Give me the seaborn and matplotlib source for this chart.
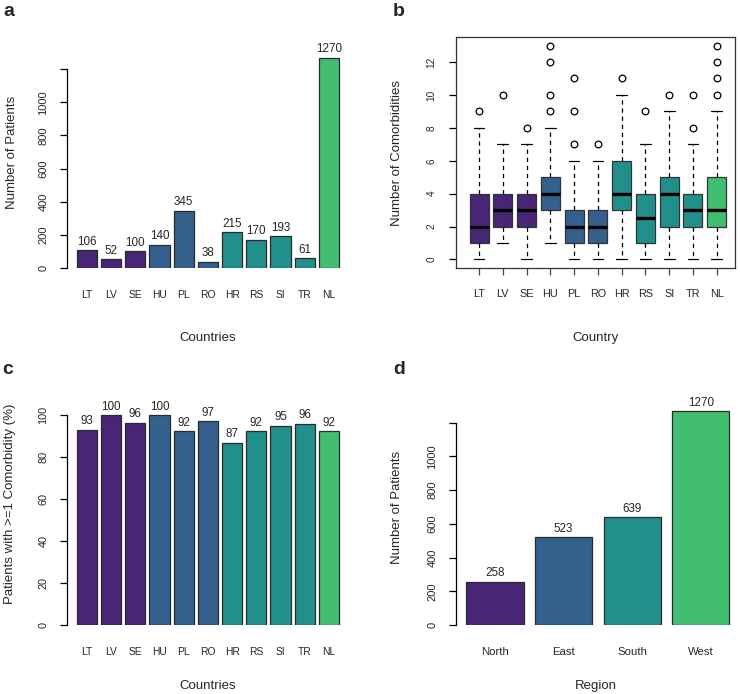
import numpy as np
import pandas as pd
import matplotlib
matplotlib.use("Agg")
import matplotlib.pyplot as plt
import seaborn as sns

# ---- data ----
countries = ["LT", "LV", "SE", "HU", "PL", "RO", "HR", "RS", "SI", "TR", "NL"]
country_region = ["North", "North", "North", "East", "East", "East",
                  "South", "South", "South", "South", "West"]
patients = [106, 52, 100, 140, 345, 38, 215, 170, 193, 61, 1270]
pct_comorb = [93.0, 100.0, 96.4, 100.0, 92.2, 97.1, 86.8, 92.4, 94.9, 95.9, 92.4]

regions = ["North", "East", "South", "West"]
region_patients = [258, 523, 639, 1270]
region_colors = ["#482576", "#34608D", "#21908C", "#42BE71"]

# boxplot summary per country (number of comorbidities)
box_q1 = [1, 2, 2, 3, 1, 1, 3, 1, 2, 2, 2]
box_med = [2, 3, 3, 4, 2, 2, 4, 2.5, 4, 3, 3]
box_q3 = [4, 4, 4, 5, 3, 3, 6, 4, 5, 4, 5]
box_lo = [0, 1, 0, 1, 0, 0, 0, 0, 0, 0, 0]
box_hi = [8, 7, 7, 8, 6, 6, 10, 7, 9, 7, 9]
box_out = [[9], [10], [8], [9, 10, 12, 13], [7, 9, 11], [7], [11], [9],
           [10], [8, 10], [10, 11, 12, 13]]

sns.set_style("white")
plt.rcParams['font.family'] = ['Liberation Sans', 'DejaVu Sans']
plt.rcParams['axes.linewidth'] = 0.9

W, H = 740, 694
fig = plt.figure(figsize=(W / 100, H / 100), dpi=100)


def px_axes(l, t, r, b):
    return fig.add_axes([l / W, 1 - b / H, (r - l) / W, (b - t) / H])


def lab_y(ax, text, x_px, box):
    l, t, r, b = box
    ax.set_ylabel(text, fontsize=9.5, va="center", ha="center")
    ax.yaxis.set_label_coords((x_px - l) / (r - l), 0.5)


def lab_x(ax, text, y_px, box):
    l, t, r, b = box
    ax.set_xlabel(text, fontsize=9.5, va="center", ha="center")
    ax.xaxis.set_label_coords(0.5, (b - y_px) / (b - t))


region_pal = dict(zip(regions, region_colors))
country_pal = {c: region_pal[r] for c, r in zip(countries, country_region)}
df_c = pd.DataFrame({"country": countries, "patients": patients, "pct": pct_comorb})
df_r = pd.DataFrame({"region": regions, "patients": region_patients})


def bar_panel(ax, df, xcol, ycol, pal, fmt, xlim, ylim, yticks, xlab_size, ylab_size):
    sns.barplot(data=df, x=xcol, y=ycol, hue=xcol, palette=pal, legend=False,
                width=0.833, edgecolor="#2a2a2a", linewidth=0.9, saturation=1, ax=ax)
    for i, v in enumerate(df[ycol]):
        ax.annotate(fmt(v), (i, v), xytext=(0, 6), textcoords="offset points",
                    ha="center", va="center", fontsize=8.4)
    ax.set_xlim(*xlim)
    ax.set_ylim(*ylim)
    ax.set_yticks(yticks)
    ax.set_yticklabels([str(t) if t != 1200 else "" for t in yticks])
    for s in ["top", "right", "bottom"]:
        ax.spines[s].set_visible(False)
    ax.spines["left"].set_bounds(yticks[0], yticks[-1])
    ax.spines["left"].set_color("black")
    ax.tick_params(axis="x", length=0, pad=15.5, labelsize=xlab_size)
    ax.tick_params(axis="y", length=5, width=0.9, direction="out", left=True,
                   pad=8.3, labelsize=ylab_size, labelrotation=90, color="black")
    for tl in ax.get_yticklabels():
        tl.set_va("center")


# ---- a ----
box_a = (67, 36, 349, 268)
ax_a = px_axes(*box_a)
bar_panel(ax_a, df_c, "country", "patients", country_pal, lambda v: f"{v:d}",
          (-0.826, 10.83), (0, 1400), [0, 200, 400, 600, 800, 1000, 1200], 7.4, 8.0)
lab_y(ax_a, "Number of Patients", 12, box_a)
lab_x(ax_a, "Countries", 338, box_a)

# ---- c ----
box_c = (67, 383.5, 349, 625)
ax_c = px_axes(*box_c)
bar_panel(ax_c, df_c, "country", "pct", country_pal, lambda v: f"{v:.0f}",
          (-0.826, 10.83), (0, 115), [0, 20, 40, 60, 80, 100], 7.4, 7.8)
lab_y(ax_c, "Patients with >=1 Comorbidity (%)", 10, box_c)
lab_x(ax_c, "Countries", 686, box_c)

# ---- d ----
box_d = (456, 389, 735, 625)
ax_d = px_axes(*box_d)
bar_panel(ax_d, df_r, "region", "patients", region_pal, lambda v: f"{v:d}",
          (-0.569, 3.5), (0, 1400), [0, 200, 400, 600, 800, 1000, 1200], 8.2, 8.0)
lab_y(ax_d, "Number of Patients", 397, box_d)
lab_x(ax_d, "Region", 686, box_d)

# ---- b ----
box_b = (456, 37, 735, 268)
ax_b = px_axes(*box_b)
stats = []
for c, q1, md, q3, lo, hi, out in zip(countries, box_q1, box_med, box_q3,
                                      box_lo, box_hi, box_out):
    stats.append(dict(label=c, q1=q1, med=md, q3=q3, whislo=lo, whishi=hi, fliers=out))
bp = ax_b.bxp(stats, positions=range(1, 12), widths=0.8, patch_artist=True,
              capwidths=0.45,
              boxprops=dict(edgecolor="#333333", linewidth=0.9),
              medianprops=dict(color="black", linewidth=2.4, solid_capstyle="butt"),
              whiskerprops=dict(color="black", linewidth=0.9, linestyle=(0, (3.5, 3))),
              capprops=dict(color="black", linewidth=0.9),
              flierprops=dict(marker="o", markerfacecolor="none", markeredgecolor="black",
                              markersize=4.8, markeredgewidth=0.9))
for patch, c in zip(bp["boxes"], countries):
    patch.set_facecolor(country_pal[c])
ax_b.set_xlim(0.032, 11.77)
ax_b.set_ylim(-0.52, 13.52)
ax_b.set_yticks([0, 2, 4, 6, 8, 10, 12])
for s in ax_b.spines.values():
    s.set_color("#333333")
    s.set_linewidth(0.9)
ax_b.tick_params(axis="x", length=5, width=0.9, direction="out", bottom=True,
                 pad=10, labelsize=7.8, color="#444444")
ax_b.tick_params(axis="y", length=5, width=0.9, direction="out", left=True,
                 pad=9, labelsize=7.2, labelrotation=90, color="black")
for tl in ax_b.get_yticklabels():
    tl.set_va("center")
lab_y(ax_b, "Number of Comorbidities", 397, box_b)
lab_x(ax_b, "Country", 338, box_b)

# panel letters
for letter, x, y in [("a", 9, 12), ("b", 399, 12), ("c", 8, 370), ("d", 399, 370)]:
    fig.text(x / W, 1 - y / H, letter, fontsize=14, fontweight="bold",
             ha="center", va="center")

fig.savefig("out.png", dpi=100)
